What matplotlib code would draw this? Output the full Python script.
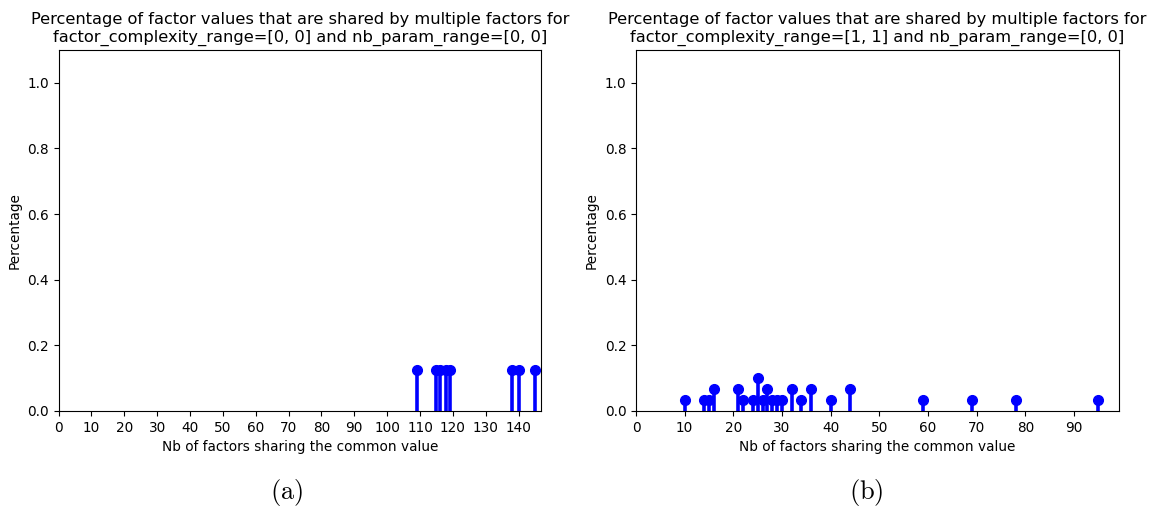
import matplotlib
matplotlib.use('Agg')
import matplotlib.pyplot as plt

plt.rcParams['mathtext.fontset'] = 'cm'

# (a) factor_complexity_range=[0, 0]
nb_factors_a = [109, 115, 116, 118, 119, 138, 140, 145]
pct_a = [0.125, 0.125, 0.125, 0.125, 0.125, 0.125, 0.125, 0.125]

# (b) factor_complexity_range=[1, 1]
nb_factors_b = [10, 14, 15, 16, 21, 22, 24, 25, 26, 27, 28, 29, 30, 32, 34, 36, 40, 44, 59, 69, 78, 95]
pct_b = [1/30, 1/30, 1/30, 2/30, 2/30, 1/30, 1/30, 3/30, 1/30, 2/30, 1/30, 1/30, 1/30,
         2/30, 1/30, 2/30, 1/30, 2/30, 1/30, 1/30, 1/30, 1/30]

titles = ['Percentage of factor values that are shared by multiple factors for\n'
          'factor_complexity_range=[0, 0] and nb_param_range=[0, 0]',
          'Percentage of factor values that are shared by multiple factors for\n'
          'factor_complexity_range=[1, 1] and nb_param_range=[0, 0]']
captions = ['(a)', '(b)']
caption_x = [287, 866]

W, H = 1156, 515
fig = plt.figure(figsize=(W / 100, H / 100), dpi=100)

boxes = [(58.5, 541), (636, 1119)]
top, bottom = 50, 411
data = [(nb_factors_a, pct_a), (nb_factors_b, pct_b)]

for i, ((x0, x1), (xs, ys)) in enumerate(zip(boxes, data)):
    ax = fig.add_axes([x0 / W, 1 - bottom / H, (x1 - x0) / W, (bottom - top) / H])
    ml, sl, bl = ax.stem(xs, ys, linefmt='b-', markerfmt='bo', basefmt=' ')
    sl.set_linewidth(2.6)
    ml.set_markersize(7)
    ax.set_ylim(0, 1.1)
    ax.set_xlim(left=0)
    ax.set_xticks(range(0, int(max(xs)) + 1, 10))
    ax.tick_params(labelsize=9.8)
    ax.set_title(titles[i], fontsize=11.7)
    ax.set_xlabel('Nb of factors sharing the common value', fontsize=9.8)
    ax.set_ylabel('Percentage', fontsize=9.8)
    fig.text(caption_x[i] / W, 1 - 493 / H, r'$\mathrm{' + captions[i] + '}$',
             fontsize=19, ha='center', va='center')

fig.savefig('out.png', dpi=100)
